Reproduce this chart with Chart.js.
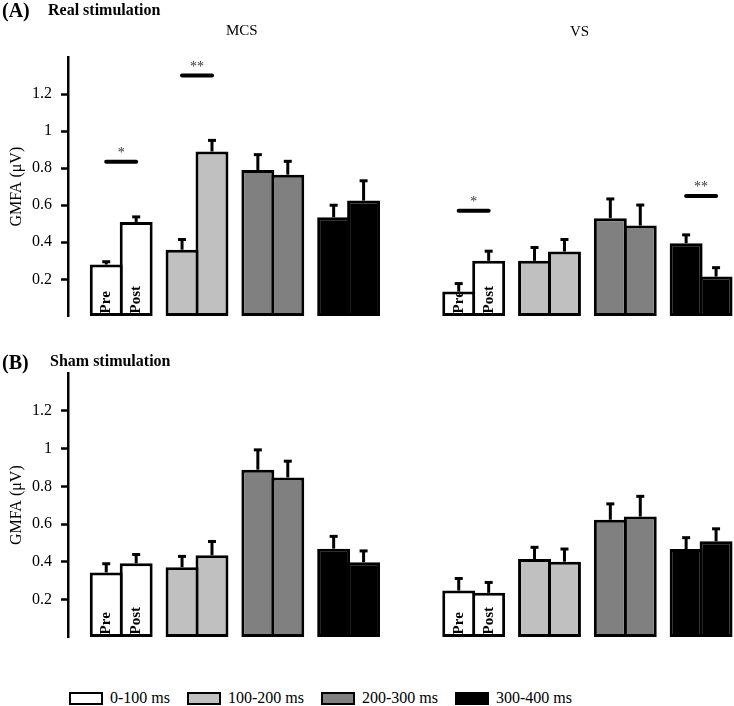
<!DOCTYPE html>
<html>
<head>
<meta charset="utf-8">
<script src="https://cdn.jsdelivr.net/npm/chart.js@4.4.1/dist/chart.umd.min.js"></script>
<style>
  body { margin: 0; background: #fff; color: #000; font-family: 'Liberation Serif', 'Times New Roman', serif; }
  #page { position: relative; width: 734px; height: 706px; overflow: hidden; }
  .panel { position: absolute; left: 0; width: 734px; }
  .lbl { position: absolute; white-space: nowrap; line-height: 1; z-index: 2; }
  .big { font-size: 20px; font-weight: bold; }
  .sub { font-size: 16px; font-weight: bold; }
  .grp { font-size: 15px; }
  #legend { position: absolute; left: 69px; top: 690px; display: flex; align-items: center; font-size: 16px; line-height: 1; }
  #legend .sw { width: 34px; height: 13px; border: 2.5px solid #000; box-sizing: border-box; margin-right: 7px; }
  #legend .tx { margin-right: 17px; }
</style>
</head>
<body>
<div id="page">
  <div class="panel" style="top:0; height:335px;"><canvas id="chartReal"></canvas></div>
  <div class="panel" style="top:330px; height:326px;"><canvas id="chartSham"></canvas></div>

  <div class="lbl big" style="left:2px; top:0px;">(A)</div>
  <div class="lbl sub" style="left:48px; top:2px;">Real stimulation</div>
  <div class="lbl grp" style="left:226px; top:23px;">MCS</div>
  <div class="lbl grp" style="left:570px; top:24px;">VS</div>
  <div class="lbl big" style="left:2px; top:352px;">(B)</div>
  <div class="lbl sub" style="left:50px; top:353px;">Sham stimulation</div>

  <div id="legend"></div>
</div>
<script>
// time windows (bar colours) and patient groups
const windows = ['0-100 ms', '100-200 ms', '200-300 ms', '300-400 ms'];
const groups = ['MCS', 'VS'];
const yTicks = [0.2, 0.4, 0.6, 0.8, 1, 1.2];

// values: MCS windows 1-4, then VS windows 1-4
const realPre = [0.28, 0.36, 0.79, 0.535, 0.135, 0.30, 0.53, 0.395];
const realPost = [0.51, 0.89, 0.765, 0.625, 0.30, 0.35, 0.49, 0.215];
const realPreErr = [0.015, 0.055, 0.083, 0.065, 0.042, 0.072, 0.104, 0.045];
const realPostErr = [0.027, 0.06, 0.072, 0.107, 0.052, 0.065, 0.111, 0.048];

const shamPre = [0.344, 0.372, 0.888, 0.47, 0.248, 0.415, 0.623, 0.468];
const shamPost = [0.392, 0.435, 0.847, 0.398, 0.236, 0.401, 0.64, 0.509];
const shamPreErr = [0.046, 0.057, 0.105, 0.065, 0.064, 0.062, 0.084, 0.06];
const shamPostErr = [0.047, 0.073, 0.086, 0.06, 0.055, 0.067, 0.107, 0.066];

// significant pre/post differences (real stimulation only)
const realSigPair = [0, 1, 4, 7];
const realSigLevel = [0.835, 1.30, 0.57, 0.65];
const realSigText = ['*', '**', '*', '**'];

const fills = ['#ffffff', '#c0c0c0', '#808080', '#000000'];
const serif = "'Liberation Serif', 'Times New Roman', serif";
const vsStart = 4.65;

function slot(i) {
    return i < 4 ? i : vsStart + (i - 4);
}

function points(values) {
    return values.map((v, i) => ({ x: slot(i), y: v }));
}

const barExtras = {
    id: 'barExtras',
    afterDatasetsDraw(chart, args, opts) {
        const ctx = chart.ctx;
        const y = chart.scales.y;
        const x = chart.scales.x;
        const base = y.getPixelForValue(0);

        chart.data.datasets.forEach((ds, d) => {
            const meta = chart.getDatasetMeta(d);
            meta.data.forEach((bar, i) => {
                const top = y.getPixelForValue(ds.data[i].y + ds.errors[i]);
                ctx.save();
                ctx.strokeStyle = '#000';
                ctx.lineWidth = 3;
                ctx.beginPath();
                ctx.moveTo(bar.x, bar.y);
                ctx.lineTo(bar.x, top);
                ctx.stroke();
                ctx.beginPath();
                ctx.moveTo(bar.x - 4, top);
                ctx.lineTo(bar.x + 4, top);
                ctx.stroke();

                if (i % 4 === 0) {
                    ctx.translate(bar.x, base - 3);
                    ctx.rotate(-Math.PI / 2);
                    ctx.font = 'bold 15px ' + serif;
                    ctx.fillStyle = '#000';
                    ctx.textAlign = 'left';
                    ctx.textBaseline = 'middle';
                    ctx.fillText(d === 0 ? 'Pre' : 'Post', 0, 0);
                }
                ctx.restore();
            });
        });

        const sig = opts.sig || { pair: [], level: [], text: [] };
        sig.pair.forEach((p, k) => {
            const cx = x.getPixelForValue(slot(p));
            const cy = y.getPixelForValue(sig.level[k]);
            ctx.save();
            ctx.strokeStyle = '#000';
            ctx.lineWidth = 4;
            ctx.lineCap = 'round';
            ctx.beginPath();
            ctx.moveTo(cx - 15, cy);
            ctx.lineTo(cx + 15, cy);
            ctx.stroke();
            ctx.font = '14px ' + serif;
            ctx.fillStyle = '#333';
            ctx.textAlign = 'center';
            ctx.textBaseline = 'alphabetic';
            ctx.fillText(sig.text[k], cx, cy - 4.5);
            ctx.restore();
        });
    }
};

function makePanel(id, pre, post, preErr, postErr, sig, pad) {
    const colors = pre.map((v, i) => fills[i % 4]);
    return new Chart(document.getElementById(id), {
        type: 'bar',
        data: {
            datasets: [{
                label: 'Pre',
                data: points(pre),
                errors: preErr,
                backgroundColor: colors,
                borderColor: '#000',
                borderWidth: 3,
                borderSkipped: false,
                categoryPercentage: 0.79,
                barPercentage: 1.1
            }, {
                label: 'Post',
                data: points(post),
                errors: postErr,
                backgroundColor: colors,
                borderColor: '#000',
                borderWidth: 3,
                borderSkipped: false,
                categoryPercentage: 0.79,
                barPercentage: 1.1
            }]
        },
        options: {
            responsive: true,
            maintainAspectRatio: false,
            animation: false,
            layout: { padding: { top: pad[0], bottom: pad[1], left: 0, right: 0 } },
            scales: {
                x: {
                    type: 'linear',
                    display: false,
                    offset: false,
                    min: -0.702,
                    max: 8.084
                },
                y: {
                    min: 0,
                    max: 1.4,
                    afterFit: (scale) => { scale.width = 68; },
                    border: { display: true, color: '#000', width: 2.5 },
                    grid: {
                        drawOnChartArea: false,
                        tickLength: 7,
                        tickWidth: 2.5,
                        tickColor: (c) => yTicks.includes(Math.round(c.tick.value * 10) / 10) ? '#000' : 'rgba(0,0,0,0)'
                    },
                    ticks: {
                        stepSize: 0.2,
                        padding: 9,
                        color: '#000',
                        font: { family: serif, size: 16 },
                        callback: (v) => {
                            const r = Math.round(v * 10) / 10;
                            return yTicks.includes(r) ? String(r) : '';
                        }
                    },
                    title: {
                        display: true,
                        text: 'GMFA (μV)',
                        color: '#000',
                        font: { family: serif, size: 16 },
                        padding: { top: 7, bottom: 0 }
                    }
                }
            },
            plugins: {
                legend: { display: false },
                tooltip: { enabled: false },
                barExtras: { sig: sig }
            }
        },
        plugins: [barExtras]
    });
}

makePanel('chartReal', realPre, realPost, realPreErr, realPostErr,
    { pair: realSigPair, level: realSigLevel, text: realSigText }, [57, 8]);
makePanel('chartSham', shamPre, shamPost, shamPreErr, shamPostErr, null, [43, 13]);

// legend for the time windows
const legend = document.getElementById('legend');
windows.forEach((w, i) => {
    const sw = document.createElement('span');
    sw.className = 'sw';
    sw.style.background = fills[i];
    const tx = document.createElement('span');
    tx.className = 'tx';
    tx.textContent = w;
    legend.appendChild(sw);
    legend.appendChild(tx);
});
</script>
</body>
</html>
